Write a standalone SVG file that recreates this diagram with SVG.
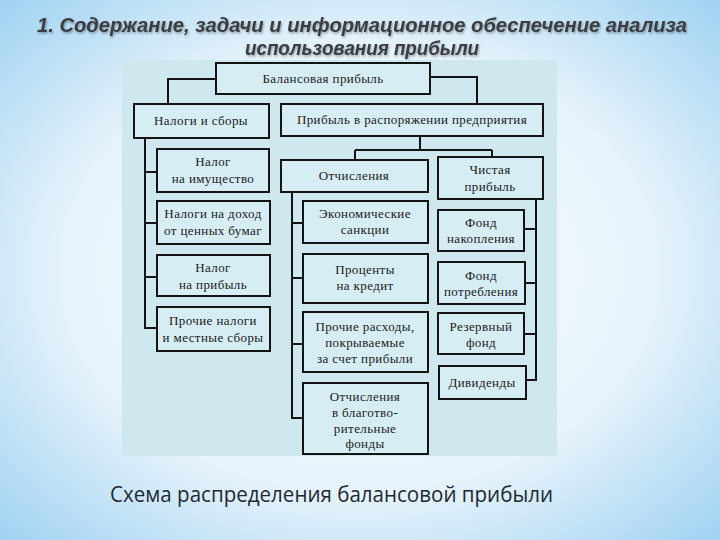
<svg xmlns="http://www.w3.org/2000/svg" width="720" height="540" viewBox="0 0 720 540">
<defs>
<radialGradient id="bg" cx="0.5" cy="0.5" r="0.75">
<stop offset="0" stop-color="#fbfdfe"/>
<stop offset="0.55" stop-color="#e6f3fb"/>
<stop offset="1" stop-color="#95cdf0"/>
</radialGradient>
<filter id="sh" filterUnits="userSpaceOnUse" x="0" y="0" width="720" height="70">
<feDropShadow dx="1" dy="1.5" stdDeviation="1" flood-color="#000" flood-opacity="0.35"/>
</filter>
<style>
.box{fill:#d6edf4;stroke:#141414;stroke-width:2}
.ln{fill:none;stroke:#141414;stroke-width:2}
.t{font-family:"Liberation Serif","DejaVu Serif",serif;font-size:13px;fill:#1a1a1a;text-anchor:middle;letter-spacing:0.4px}
.title{font-family:"Liberation Sans","DejaVu Sans",sans-serif;font-weight:bold;font-style:italic;font-size:20px;fill:#3a3d42;text-anchor:middle}
.cap{font-family:"Open Sans","Noto Sans",sans-serif;font-size:21px;fill:#1e2833}
</style>
</defs>
<rect x="0" y="0" width="720" height="540" fill="url(#bg)"/>
<g id="title" filter="url(#sh)">
<text class="title" x="362" y="32" textLength="650" lengthAdjust="spacingAndGlyphs">1. Содержание, задачи и информационное обеспечение анализа</text>
<text class="title" x="362" y="55" textLength="234" lengthAdjust="spacingAndGlyphs">использования прибыли</text>
</g>
<rect x="122" y="60" width="435" height="396" fill="#cfe8f0"/>
<g id="connectors">
<path class="ln" d="M216 79 H168 V104"/>
<path class="ln" d="M430 77 H477 V104"/>
<path class="ln" d="M145 138 V328 H157 M145 172 H157 M145 223 H157 M145 277 H157"/>
<path class="ln" d="M420 136 V150 M355 150 H492 M355 150 V160 M492 150 V157"/>
<path class="ln" d="M292 192 V418 H303 M292 223 H303 M292 278 H303 M292 344 H303"/>
<path class="ln" d="M524 199 H536 M536 199 V380 H526 M524 229 H536 M525 283 H536 M524 334 H536"/>
</g>
<g id="n-balance"><rect class="box" x="216" y="63" width="214" height="31"/><text class="t" x="323" y="83">Балансовая прибыль</text></g>
<g id="n-taxes"><rect class="box" x="134" y="104" width="135" height="34"/><text class="t" x="201" y="125">Налоги и сборы</text></g>
<g id="n-disposal"><rect class="box" x="281" y="104" width="262" height="32"/><text class="t" x="412" y="124">Прибыль в распоряжении предприятия</text></g>
<g id="n-property"><rect class="box" x="157" y="149" width="112" height="43"/><text class="t" x="213" y="166">Налог</text><text class="t" x="213" y="183">на имущество</text></g>
<g id="n-securities"><rect class="box" x="157" y="201" width="113" height="43"/><text class="t" x="213" y="218">Налоги на доход</text><text class="t" x="213" y="235">от ценных бумаг</text></g>
<g id="n-profit-tax"><rect class="box" x="157" y="255" width="113" height="41"/><text class="t" x="213" y="272">Налог</text><text class="t" x="213" y="289">на прибыль</text></g>
<g id="n-other-taxes"><rect class="box" x="157" y="307" width="113" height="44"/><text class="t" x="213" y="325">Прочие налоги</text><text class="t" x="213" y="342">и местные сборы</text></g>
<g id="n-deductions"><rect class="box" x="281" y="160" width="147" height="32"/><text class="t" x="354" y="180">Отчисления</text></g>
<g id="n-net"><rect class="box" x="438" y="157" width="105" height="42"/><text class="t" x="490" y="174">Чистая</text><text class="t" x="490" y="191">прибыль</text></g>
<g id="n-sanctions"><rect class="box" x="303" y="201" width="125" height="42"/><text class="t" x="365" y="218">Экономические</text><text class="t" x="365" y="234">санкции</text></g>
<g id="n-interest"><rect class="box" x="303" y="254" width="125" height="49"/><text class="t" x="365" y="274">Проценты</text><text class="t" x="365" y="290">на кредит</text></g>
<g id="n-other-exp"><rect class="box" x="303" y="312" width="125" height="60"/><text class="t" x="365" y="331">Прочие расходы,</text><text class="t" x="365" y="347">покрываемые</text><text class="t" x="365" y="363">за счет прибыли</text></g>
<g id="n-charity"><rect class="box" x="303" y="383" width="125" height="71"/><text class="t" x="365" y="401">Отчисления</text><text class="t" x="365" y="417">в благотво-</text><text class="t" x="365" y="433">рительные</text><text class="t" x="365" y="448">фонды</text></g>
<g id="n-accum"><rect class="box" x="438" y="210" width="86" height="41"/><text class="t" x="481" y="227">Фонд</text><text class="t" x="481" y="243">накопления</text></g>
<g id="n-consump"><rect class="box" x="438" y="262" width="87" height="42"/><text class="t" x="481" y="280">Фонд</text><text class="t" x="481" y="296">потребления</text></g>
<g id="n-reserve"><rect class="box" x="438" y="313" width="86" height="41"/><text class="t" x="481" y="331">Резервный</text><text class="t" x="481" y="347">фонд</text></g>
<g id="n-dividends"><rect class="box" x="439" y="366" width="87" height="33"/><text class="t" x="482" y="387">Дивиденды</text></g>
<text class="cap" x="110" y="502" textLength="443" lengthAdjust="spacingAndGlyphs">Схема распределения балансовой прибыли</text>
</svg>
